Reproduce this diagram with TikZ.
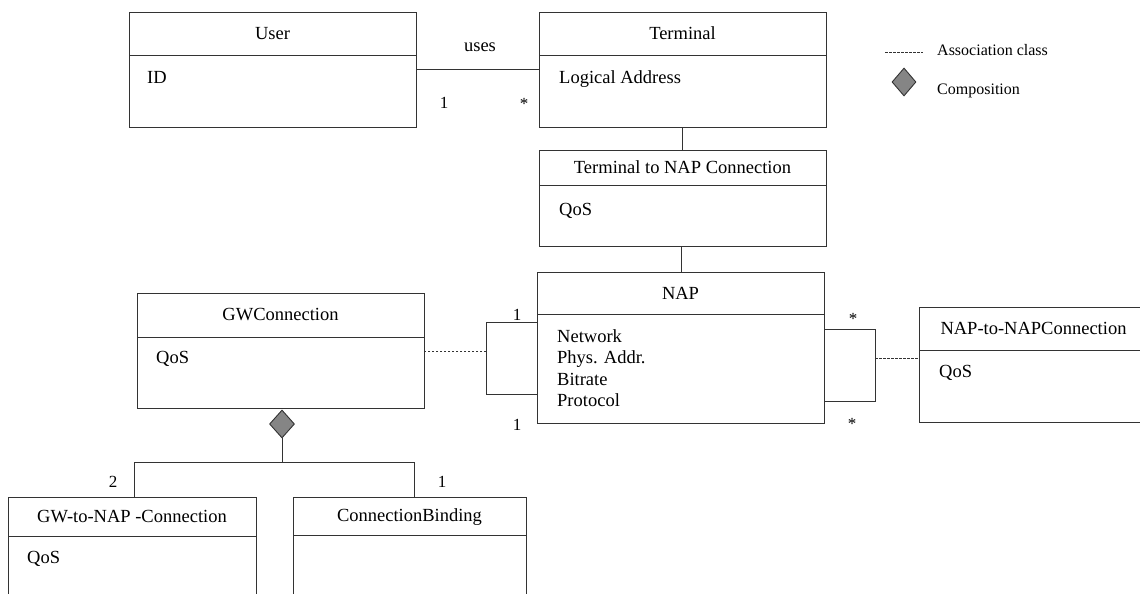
\documentclass[tikz,border=0pt]{standalone}
\usepackage{fontspec}
\setmainfont{Liberation Serif}
\usetikzlibrary{shapes.geometric}
\definecolor{linec}{HTML}{333333}
\definecolor{diamc}{HTML}{858585}
\tikzset{
  cls/.style={draw=linec, line width=0.9pt, anchor=north west, inner sep=0pt, minimum width=#1},
  ttl/.style={inner sep=0pt, font=\fontsize{18.5}{21.3}\selectfont},
  att/.style={inner sep=0pt, anchor=base west, font=\fontsize{18.5}{21.3}\selectfont},
  mult/.style={inner sep=0pt, font=\fontsize{17}{20}\selectfont},
  lnk/.style={draw=linec, line width=0.9pt},
  assoc/.style={draw=linec, line width=0.8pt, dash pattern=on 2.5pt off 1.5pt},
  comp/.style={diamond, draw=linec, line width=0.9pt, fill=diamc, inner sep=0pt, minimum width=#1, minimum height=28pt, aspect=0.9},
  leg/.style={inner sep=0pt, anchor=base west, font=\fontsize{16}{19}\selectfont},
}
\begin{document}
\begin{tikzpicture}[x=1pt, y=-1pt]
\useasboundingbox (0,0) rectangle (1140,594);
\clip (0,0) rectangle (1140,594);
% ---------- User
\node[cls=287pt, minimum height=115pt] (user) at (129,12) {};
\draw[lnk] (129,55) -- (416,55);
\node[ttl] (userT) at (272.5,33.5) {User};
\node[att] (userA) at (147,83) {ID};
% ---------- Terminal
\node[cls=287pt, minimum height=115pt] (term) at (539,12) {};
\draw[lnk] (539,55) -- (826,55);
\node[ttl] (termT) at (682.5,33.5) {Terminal};
\node[att] (termA) at (559,83) {Logical Address};
% ---------- Terminal to NAP Connection
\node[cls=287pt, minimum height=96pt] (t2n) at (539,150) {};
\draw[lnk] (539,185) -- (826,185);
\node[ttl] (t2nT) at (682.5,167.5) {Terminal to NAP Connection};
\node[att] (t2nA) at (559,215) {QoS};
% ---------- NAP
\node[cls=287pt, minimum height=151pt] (nap) at (537,272) {};
\draw[lnk] (537,314) -- (824,314);
\node[ttl] (napT) at (680.5,293) {NAP};
\node[att] (napA1) at (557,342) {Network};
\node[att] (napA2) at (557,363.5) {Phys. Addr.};
\node[att] (napA3) at (557,385) {Bitrate};
\node[att] (napA4) at (557,406) {Protocol};
% ---------- GWConnection
\node[cls=287pt, minimum height=115pt] (gw) at (137,293) {};
\draw[lnk] (137,337) -- (424,337);
\node[ttl] (gwT) at (280.5,315) {GWConnection};
\node[att] (gwA) at (156,363) {QoS};
% ---------- NAP-to-NAPConnection
\node[cls=240pt, minimum height=115pt] (n2n) at (919,307) {};
\draw[lnk] (919,350) -- (1159,350);
\node[ttl] (n2nT) at (1033.5,328.5) {NAP-to-NAPConnection};
\node[att] (n2nA) at (939,377) {QoS};
% ---------- GW-to-NAP -Connection
\node[cls=248pt, minimum height=130pt] (g2n) at (8,497) {};
\draw[lnk] (8,536) -- (256,536);
\node[ttl] (g2nT) at (132,517) {GW-to-NAP -Connection};
\node[att] (g2nA) at (27,563) {QoS};
% ---------- ConnectionBinding
\node[cls=233pt, minimum height=130pt] (cb) at (293,497) {};
\draw[lnk] (293,535) -- (526,535);
\node[ttl] (cbT) at (409.5,517) {ConnectionBinding};
% ---------- User -- Terminal
\coordinate (uR) at (416,69);
\coordinate (tL) at (539,69);
\draw[lnk] (uR) -- (tL);
\node[ttl] (usesL) at (480,47) {uses};
\node[mult] (m1) at (444,103) {1};
\node[mult] (m2) at (524,104) {*};
% ---------- Terminal -- T2N -- NAP
\draw[lnk] (term.south -| 682,0) -- (t2n.north -| 682,0);
\draw[lnk] (t2n.south -| 681,0) -- (nap.north -| 681,0);
% ---------- NAP left bracket with GWConnection as association class
\coordinate (bl1) at (537,322);
\coordinate (bl2) at (486,322);
\coordinate (bl3) at (486,394);
\coordinate (bl4) at (537,394);
\draw[lnk] (bl1) -- (bl2) -- (bl3) -- (bl4);
\coordinate (blm) at (486,351);
\draw[assoc] (blm) -- (gw.east |- blm);
\node[mult] (m3) at (517,315) {1};
\node[mult] (m4) at (517,425) {1};
% ---------- NAP right bracket with NAP-to-NAPConnection
\coordinate (br1) at (824,329);
\coordinate (br2) at (875,329);
\coordinate (br3) at (875,401);
\coordinate (br4) at (824,401);
\draw[lnk] (br1) -- (br2) -- (br3) -- (br4);
\coordinate (brm) at (875,358);
\draw[assoc] (brm) -- (n2n.west |- brm);
\node[mult] (m5) at (853,319) {*};
\node[mult] (m6) at (852,424) {*};
% ---------- Composition
\node[comp=25pt] (cd) at (282,424) {};
\coordinate (cj) at (282,462);
\coordinate (cjl) at (134,462);
\coordinate (cjr) at (415,462);
\draw[lnk] (cd.south) -- (cj);
\draw[lnk] (cjl) -- (cjr);
\draw[lnk] (cjl) -- (g2n.north -| cjl);
\draw[lnk] (414,462) -- (cb.north -| 414,0);
\node[mult] (m7) at (113,482) {2};
\node[mult] (m8) at (442,482) {1};
% ---------- Legend
\coordinate (lg1) at (885,52);
\coordinate (lg2) at (923,52);
\draw[assoc, line width=0.7pt] (lg1) -- (lg2);
\node[leg] (lgA) at (937,56) {Association class};
\node[comp=24pt] (lgD) at (904,82) {};
\node[leg] (lgC) at (937,95) {Composition};
\end{tikzpicture}
\end{document}
